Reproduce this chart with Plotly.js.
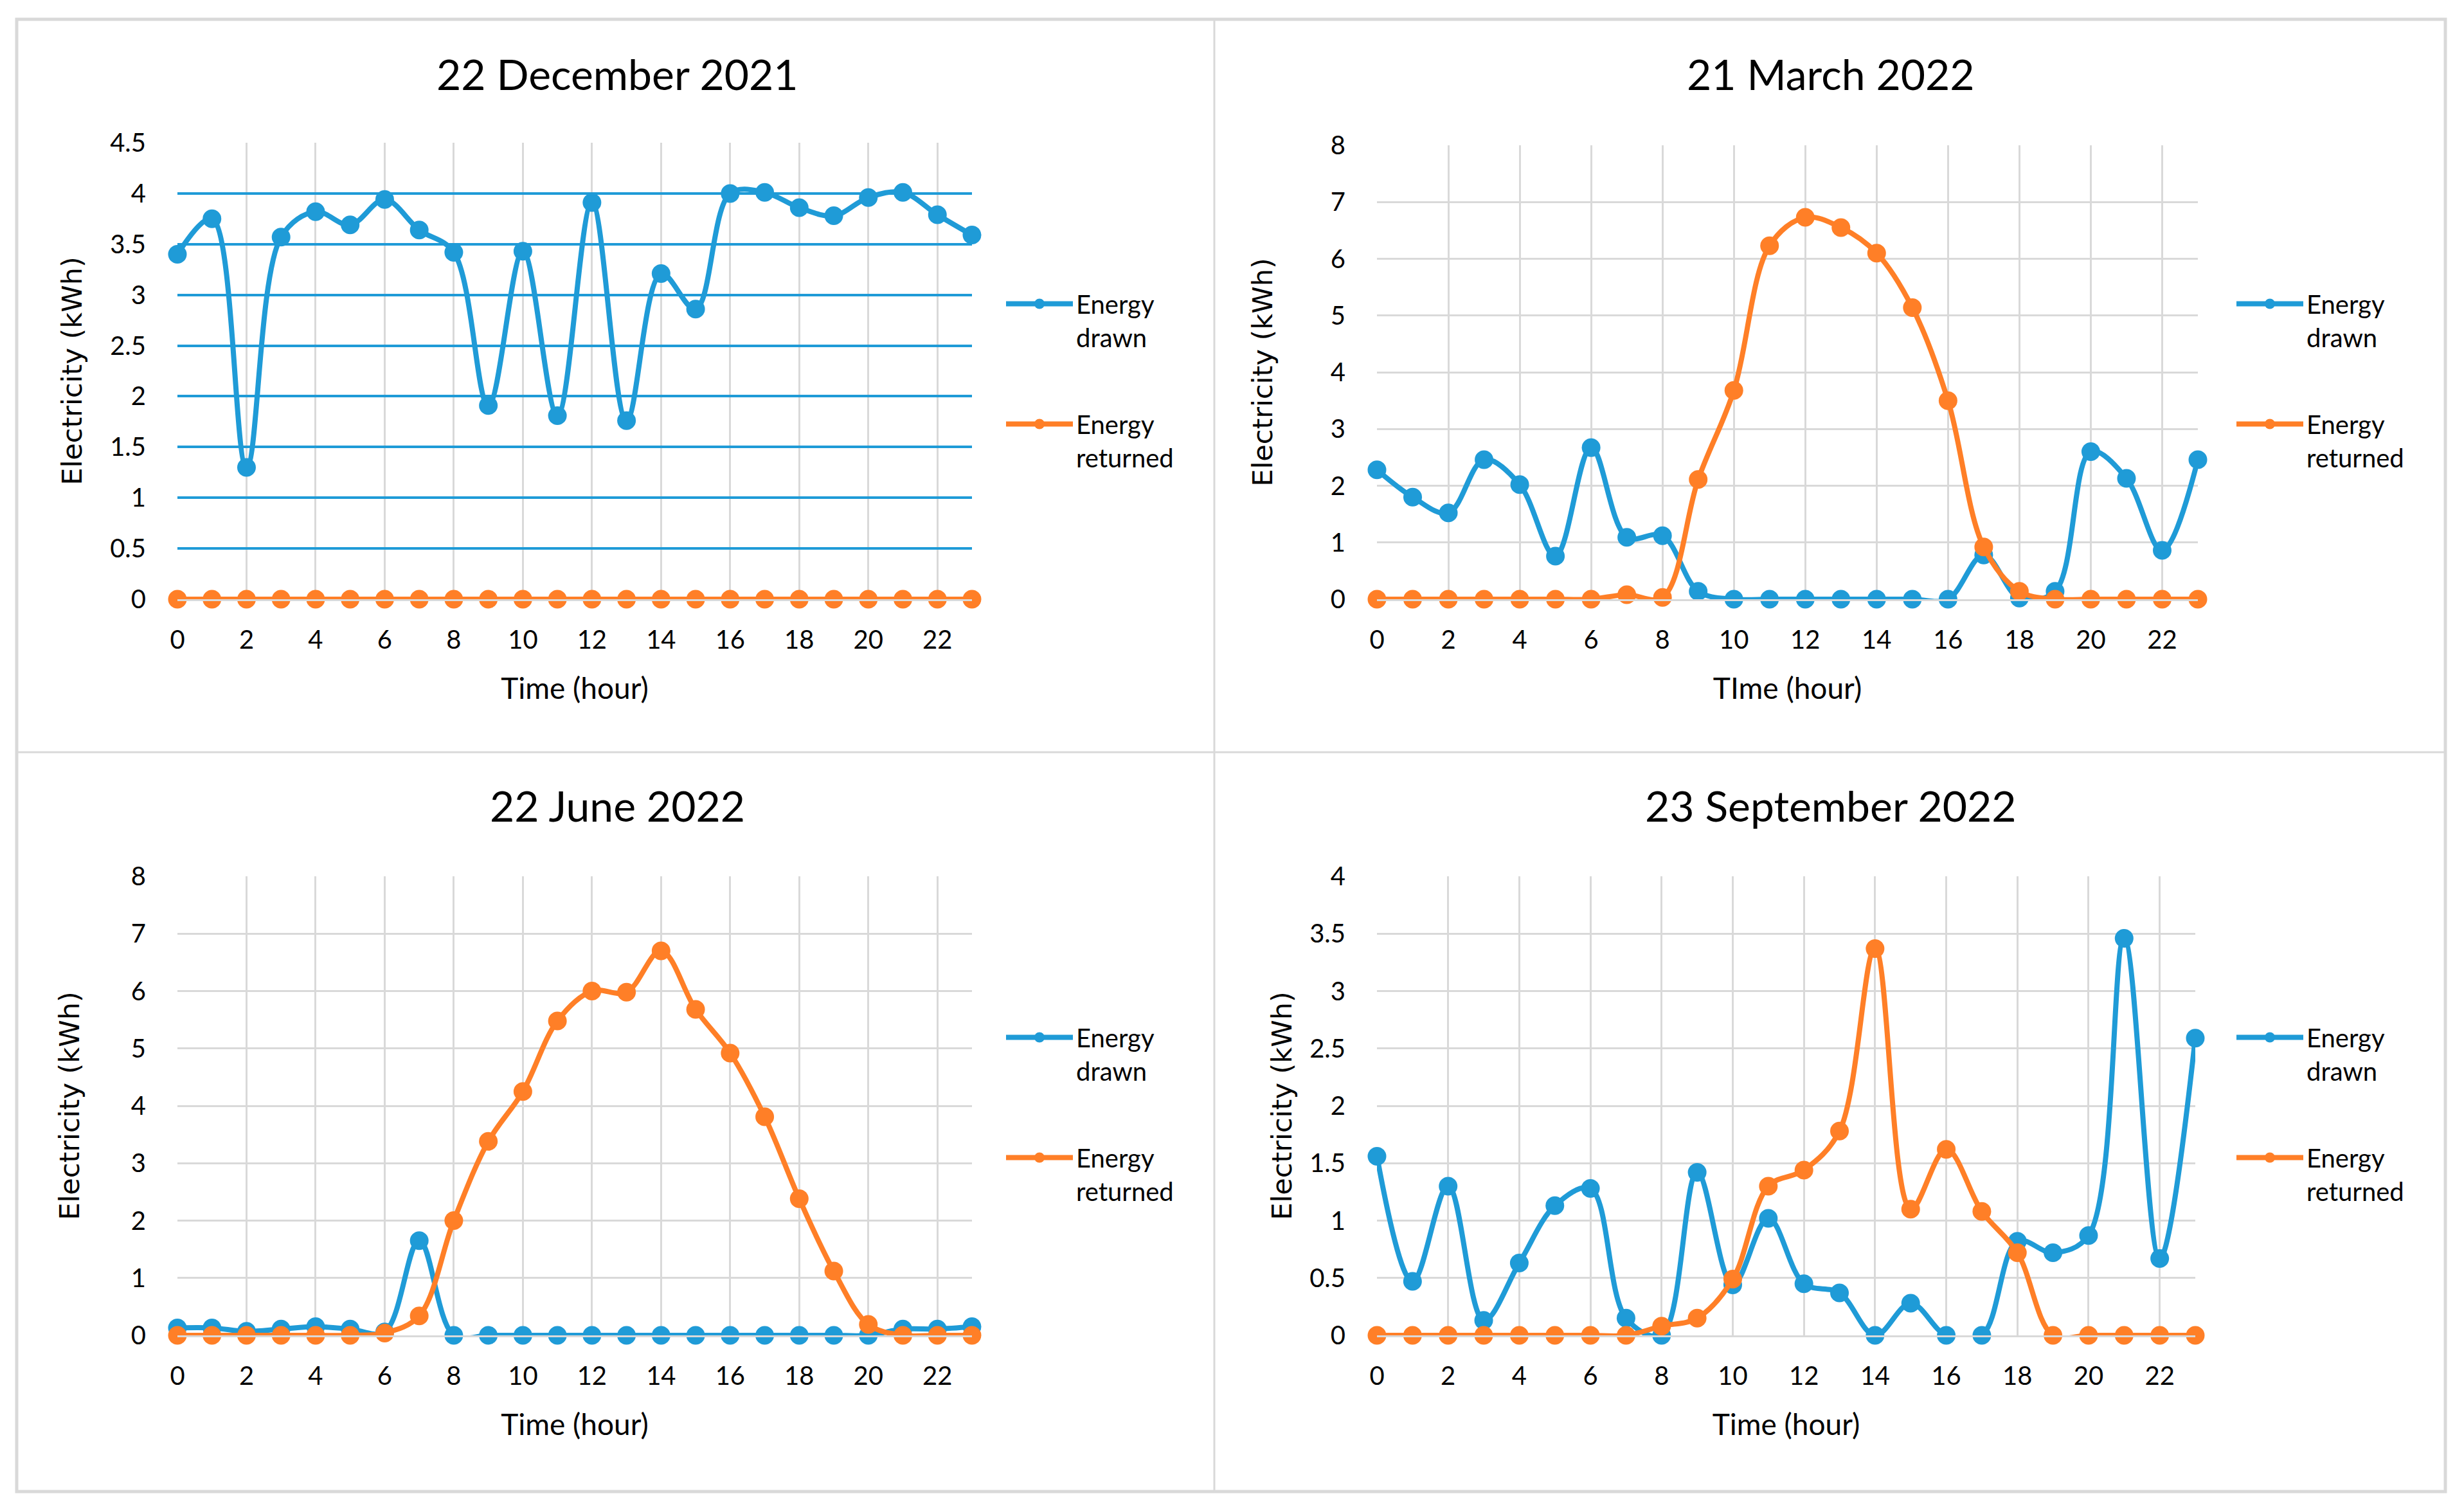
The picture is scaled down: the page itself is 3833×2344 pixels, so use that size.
<!DOCTYPE html>
<html>
<head>
<meta charset="utf-8">
<script src="https://cdn.plot.ly/plotly-3.0.1.min.js"></script>
<style>
  html, body { margin: 0; padding: 0; background: #fff; }
  #chart { width: 3833px; height: 2344px; }
</style>
</head>
<body>
<div id="chart"></div>
<script>
// Hourly energy, four days (kWh)
const hours = Array.from({ length: 24 }, (_, i) => i);
const hourTicks = [0, 2, 4, 6, 8, 10, 12, 14, 16, 18, 20, 22];

const titles = ['22 December 2021', '21 March 2022', '22 June 2022', '23 September 2022'];
const xTitles = ['Time (hour)', 'TIme (hour)', 'Time (hour)', 'Time (hour)'];

const decDrawn = [3.40, 3.75, 1.30, 3.57, 3.82, 3.69, 3.94, 3.64, 3.42, 1.91, 3.43, 1.81,
                  3.91, 1.76, 3.21, 2.86, 4.00, 4.01, 3.86, 3.78, 3.96, 4.01, 3.79, 3.59];
const decReturned = [0, 0, 0, 0, 0, 0, 0, 0, 0, 0, 0, 0, 0, 0, 0, 0, 0, 0, 0, 0, 0, 0, 0, 0];

const marDrawn = [2.28, 1.80, 1.52, 2.46, 2.02, 0.76, 2.67, 1.09, 1.12, 0.14, 0, 0,
                  0, 0, 0, 0, 0, 0.78, 0.02, 0.14, 2.60, 2.13, 0.86, 2.46];
const marReturned = [0, 0, 0, 0, 0, 0, 0, 0.08, 0.03, 2.11, 3.68, 6.23,
                     6.73, 6.55, 6.10, 5.14, 3.50, 0.92, 0.14, 0, 0, 0, 0, 0];

const junDrawn = [0.13, 0.13, 0.07, 0.11, 0.15, 0.11, 0.06, 1.65, 0, 0, 0, 0,
                  0, 0, 0, 0, 0, 0, 0, 0, 0, 0.11, 0.11, 0.15];
const junReturned = [0, 0, 0, 0, 0, 0, 0.04, 0.34, 2.00, 3.38, 4.25, 5.48,
                     6.00, 5.98, 6.70, 5.68, 4.92, 3.81, 2.38, 1.12, 0.19, 0, 0, 0];

const sepDrawn = [1.56, 0.47, 1.30, 0.13, 0.63, 1.13, 1.28, 0.15, 0, 1.42, 0.44, 1.02,
                  0.45, 0.37, 0, 0.28, 0, 0, 0.82, 0.72, 0.87, 3.46, 0.67, 2.59];
const sepReturned = [0, 0, 0, 0, 0, 0, 0, 0, 0.08, 0.15, 0.49, 1.30,
                     1.44, 1.78, 3.37, 1.10, 1.62, 1.08, 0.72, 0, 0, 0, 0, 0];

const drawnSeries = [decDrawn, marDrawn, junDrawn, sepDrawn];
const returnedSeries = [decReturned, marReturned, junReturned, sepReturned];
const yMax = [4.5, 8, 8, 4];
const yStep = [0.5, 1, 1, 0.5];

const BLUE = '#1F9BD7';
const ORANGE = '#FF7F27';
const GRID = '#D9D9D9';
const FONT = 'Lato, "Liberation Sans", sans-serif';

// page layout in pixels
const W = 3833, H = 2344;
const px = x => x / W;
const py = y => 1 - y / H;

const panels = [
    { left: 276, right: 1512, top: 222, bottom: 932, titleX: 960, titleY: 114, legX: 1560, legY: 440, ystand: 30 },
    { left: 2142, right: 3419, top: 226, bottom: 932, titleX: 2848, titleY: 114, legX: 3474, legY: 440, ystand: 76 },
    { left: 276, right: 1512, top: 1363, bottom: 2077, titleX: 960, titleY: 1252, legX: 1560, legY: 1581, ystand: 66 },
    { left: 2142, right: 3415, top: 1363, bottom: 2077, titleX: 2848, titleY: 1252, legX: 3474, legY: 1581, ystand: 14 }
];

const data = [];
const layout = {
    width: W,
    height: H,
    margin: { l: 0, r: 0, t: 0, b: 0 },
    paper_bgcolor: '#fff',
    plot_bgcolor: '#fff',
    font: { family: FONT, color: '#000' },
    annotations: [],
    shapes: []
};

panels.forEach((p, i) => {
    const n = i === 0 ? '' : String(i + 1);
    const legendName = 'legend' + n;

    data.push({
        x: hours, y: drawnSeries[i],
        xaxis: 'x' + n, yaxis: 'y' + n,
        name: 'Energy<br>drawn',
        mode: 'lines+markers',
        line: { color: BLUE, width: 8, shape: 'spline', smoothing: 1 },
        marker: { color: BLUE, size: 29 },
        cliponaxis: false,
        legend: legendName,
        legendgroup: 'drawn' + i
    });
    data.push({
        x: hours, y: returnedSeries[i],
        xaxis: 'x' + n, yaxis: 'y' + n,
        name: 'Energy<br>returned',
        mode: 'lines+markers',
        line: { color: ORANGE, width: 8, shape: 'spline', smoothing: 1 },
        marker: { color: ORANGE, size: 29 },
        cliponaxis: false,
        legend: legendName,
        legendgroup: 'returned' + i
    });

    layout['xaxis' + n] = {
        domain: [px(p.left), px(p.right)],
        anchor: 'y' + n,
        range: [0, 23],
        tickvals: hourTicks,
        ticks: 'outside',
        ticklen: 26,
        tickcolor: 'rgba(0,0,0,0)',
        tickfont: { family: FONT, size: 40, color: '#000' },
        showgrid: true,
        gridcolor: GRID,
        gridwidth: 3,
        showline: true,
        linecolor: GRID,
        linewidth: 3,
        zeroline: false,
        fixedrange: true,
        title: { text: xTitles[i], font: { family: FONT, size: 46, color: '#000' }, standoff: 38 }
    };

    const yTicks = [];
    for (let v = 0; v <= yMax[i] + 1e-9; v += yStep[i]) yTicks.push(Math.round(v * 10) / 10);

    layout['yaxis' + n] = {
        domain: [py(p.bottom), py(p.top)],
        anchor: 'x' + n,
        range: [0, yMax[i]],
        tickvals: yTicks,
        ticks: 'outside',
        ticklen: 40,
        tickcolor: 'rgba(0,0,0,0)',
        tickfont: { family: FONT, size: 40, color: '#000' },
        showgrid: true,
        gridcolor: i === 0 ? BLUE : GRID,
        gridwidth: i === 0 ? 4 : 3,
        showline: false,
        zeroline: false,
        fixedrange: true,
        title: { text: 'Electricity (kWh)', font: { family: '"DejaVu Sans", Verdana, sans-serif', size: 43, color: '#000' }, standoff: p.ystand }
    };

    layout[legendName] = {
        x: px(p.legX), y: py(p.legY),
        xanchor: 'left', yanchor: 'top',
        traceorder: 'grouped',
        tracegroupgap: 80,
        itemwidth: 104,
        valign: 'top',
        bgcolor: 'rgba(0,0,0,0)',
        font: { family: FONT, size: 40, color: '#000' }
    };

    layout.annotations.push({
        text: titles[i],
        xref: 'paper', yref: 'paper',
        x: px(p.titleX), y: py(p.titleY),
        xanchor: 'center', yanchor: 'middle',
        showarrow: false,
        font: { family: FONT, size: 66, color: '#000' }
    });
});

// chart frame and panel dividers
layout.shapes.push(
    { type: 'rect', xref: 'paper', yref: 'paper', x0: px(26), x1: px(3804), y0: py(2320), y1: py(30),
      line: { color: GRID, width: 5 }, layer: 'below' },
    { type: 'line', xref: 'paper', yref: 'paper', x0: px(1889), x1: px(1889), y0: py(2320), y1: py(30),
      line: { color: GRID, width: 3 }, layer: 'below' },
    { type: 'line', xref: 'paper', yref: 'paper', x0: px(26), x1: px(3804), y0: py(1170), y1: py(1170),
      line: { color: GRID, width: 3 }, layer: 'below' }
);

Plotly.newPlot('chart', data, layout, { displayModeBar: false, staticPlot: true });
</script>
</body>
</html>
